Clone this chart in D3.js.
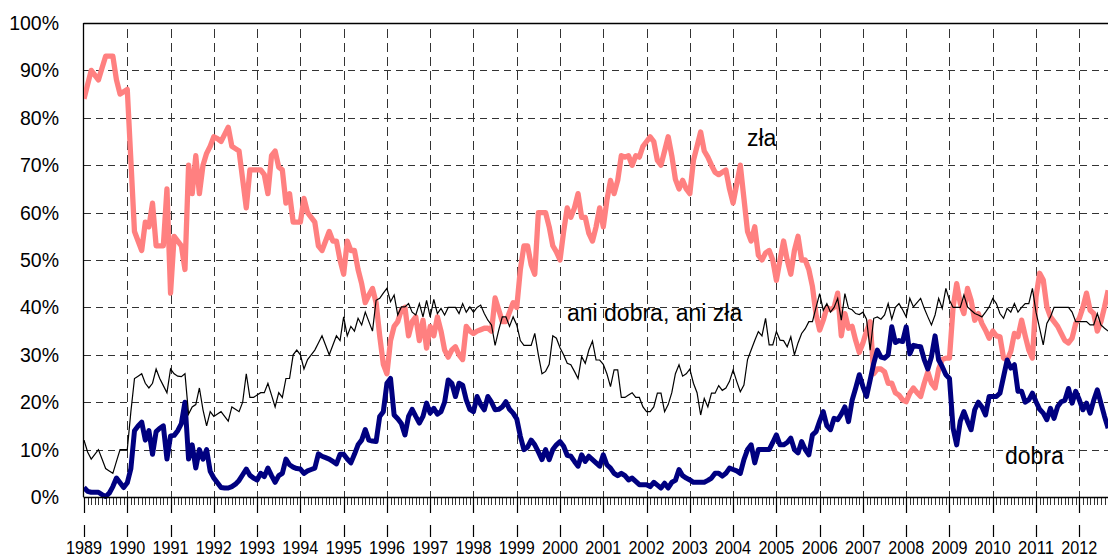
<!DOCTYPE html>
<html>
<head>
<meta charset="utf-8">
<script src="https://cdn.jsdelivr.net/npm/d3@7"></script>
<style>
  body { margin: 0; background: #fff; }
  svg { display: block; font-family: Arial, "Liberation Sans", sans-serif; }
</style>
</head>
<body>
<div id="chart"></div>
<script>
// monthly values, Jan 1989 .. Sep 2012 (one row per year)
var zla = [
  84, 87, 90, 89, 88, 90.5, 93, 93, 93, 88, 85, 85.5,
  86, 71, 56, 54, 52, 58, 57, 62, 53, 53, 53, 65,
  43, 55, 54, 53, 48, 70, 64, 72, 64, 70, 72.5, 74,
  76, 75.6, 75, 76.5, 78, 74, 73.5, 73, 67, 61, 69, 69,
  69, 69, 68, 64, 72, 73, 69.6, 69, 62, 64, 58, 58,
  58, 63, 60, 59, 58, 53, 52, 54, 56, 54, 54, 50,
  47, 54, 52, 52, 48, 45, 41, 42.6, 44, 41, 34, 28,
  26, 33, 36, 37, 39.5, 40, 34, 37, 38, 33, 37.3, 31.4,
  36, 34, 38, 35, 31, 29.5, 31, 31.7, 30, 29, 36, 35,
  34.5, 35, 35.3, 35.6, 35.6, 35, 42, 39.5, 37, 37, 39, 41,
  40, 48, 53, 53, 49, 47, 60, 60, 60, 57, 53, 51.7,
  50, 56, 61, 59, 61, 64, 59, 59, 55.6, 54, 57, 61,
  57, 62.6, 66.8, 64, 66.8, 72, 71.7, 72, 70, 72, 71.7, 74,
  75, 76, 75, 71, 70, 73, 76, 72, 67, 65, 66.8, 65,
  64, 71, 74, 77, 73, 71.7, 70, 68.5, 68, 68.5, 69, 65,
  62, 66, 70, 63, 56, 54, 57, 51, 50, 51.5, 52, 50,
  45.7, 50, 54, 50, 47, 52, 55, 50, 50, 48, 44.4, 38.5,
  35.2, 37.3, 40, 39.5, 40, 43, 34, 38.7, 35.6, 36, 33, 30.5,
  32.5, 35, 37, 26, 27, 27, 26.4, 24, 24, 22, 21.5, 20.5,
  20.1, 21.9, 23, 22, 21.2, 24, 26.4, 24, 23, 27, 29, 29.3,
  29.3, 40, 45, 40.8, 38.7, 44, 41.5, 37.3, 38.7, 36.6, 35.2, 33.5,
  35, 34, 33.8, 29.3, 28.9, 30.7, 34.5, 33.8, 37.3, 34, 31, 29.3,
  42.2, 47.2, 45.8, 40.1, 38, 37, 36, 34.5, 33, 32.5, 33.5, 36.6,
  37.7, 40, 43, 39.4, 38.7, 35, 37, 40.1, 43.6
];
var aniDobraAniZla = [
  12, 9.5, 8, 9, 10, 8, 6, 5.5, 5, 7.5, 10, 10,
  10, 18, 25, 25.5, 26, 24, 23, 24, 27, 25, 23.5, 22,
  27, 26, 25.5, 25.4, 26, 17.5, 19, 19.5, 23, 18.4, 15, 18,
  17, 17.5, 18, 17, 16, 19, 18.5, 18, 20, 26, 21, 21,
  21.5, 22, 22, 24, 21.5, 19, 22, 21, 25, 25, 30, 31,
  30, 27, 29, 30, 31, 32.5, 34, 32, 30, 32, 34, 33,
  38, 34, 36, 35, 37.7, 36.3, 39, 37, 35, 41.5, 41.9, 43,
  44, 41.2, 42.6, 38.4, 40.1, 40.1, 40.8, 39, 38.4, 40.8, 38, 41.5,
  38, 41.7, 38.7, 39.8, 38.4, 40, 40, 40, 38.7, 40.8, 39, 40.1,
  39, 40, 40.5, 38.7, 37.3, 36.3, 32, 35.2, 38, 38, 36, 38,
  36.3, 33, 32, 32, 32, 34.5, 30, 26, 26.5, 28, 34, 33.5,
  31.5, 30, 28.2, 27.9, 26.5, 25, 29.6, 28.2, 31, 32.9, 28.9, 28.9,
  28, 26, 23.3, 26.8, 26.8, 21, 21, 21.5, 22, 21, 21, 19,
  18, 18, 19, 21.9, 21.9, 18, 19.5, 22, 26, 27.9, 25.5, 26,
  27, 24, 22, 17.3, 20.8, 19, 21.9, 21.9, 23.5, 22.5, 23, 24.4,
  26.8, 24.4, 22.2, 23.6, 29, 31, 33, 34.9, 34, 37.7, 32.1, 32.1,
  34.9, 33.1, 33, 31.7, 33.8, 30, 32.5, 34.5, 35.5, 37, 37, 40,
  42.9, 39.4, 40.8, 39, 40, 41.9, 37.3, 42.9, 39.8, 39.5, 38.7, 38.5,
  39, 37.5, 31, 37.7, 38, 37.5, 38.4, 40.8, 37.5, 40, 40.8, 39.5,
  38, 41.9, 40.1, 41, 41.9, 39.8, 38, 36.3, 38.4, 41.9, 39.8, 44,
  41.5, 40, 40, 40, 42.6, 40.1, 39.4, 38.7, 38.4, 38, 39, 40.1,
  41.9, 40.8, 38.7, 37.7, 39.8, 39, 40.8, 39, 40, 40.8, 40.8, 44,
  39, 35.6, 32.1, 36.6, 38, 40, 40, 40, 40, 40, 39, 37,
  37, 37, 37, 36.3, 36.3, 38.7, 36.3, 35.6, 35
];
var dobra = [
  2, 1.2, 1, 1, 1, 0.5, 0.1, 0.8, 2.2, 4, 3, 2,
  3, 6, 14, 15, 15.8, 12, 14, 9, 13.8, 14.5, 15, 8,
  12.9, 13, 14, 15.5, 20, 8, 11, 6.1, 10, 8, 10, 5.4,
  4, 3, 2, 1.9, 1.9, 2.2, 2.7, 3.5, 4.7, 5.9, 4.6, 4,
  3.6, 5, 4.3, 6.1, 4.5, 3.1, 4.5, 5, 8, 6.8, 6.3, 6,
  5.9, 5, 5.5, 5.8, 6.1, 9.1, 8.6, 8.3, 8, 7.5, 7, 9,
  9, 8, 7.2, 9, 11, 12, 14.2, 12, 11.8, 11.7, 17, 18,
  24, 25, 17.3, 16.5, 15.5, 13.1, 17, 18.5, 17, 15.6, 17, 19.8,
  17.7, 18.7, 17.5, 18, 20, 24.7, 24, 21.2, 24, 23.6, 20.5, 18.5,
  18, 21.2, 19.5, 18.4, 21.2, 20, 18.4, 18.5, 19, 20.1, 18.5, 17.7,
  16.5, 12.8, 10, 10.5, 12, 11, 9.5, 7.9, 10, 7.9, 10, 11,
  11.7, 10.7, 8.8, 8.6, 7.5, 6.5, 8.9, 7.5, 8.6, 7.9, 7.2, 6.5,
  8.9, 6.8, 6.1, 5, 4.5, 5, 4.5, 3.6, 4, 3.3, 2.6, 2.6,
  2.6, 2.2, 3.1, 2.5, 1.9, 2.9, 1.9, 3.1, 3.5, 5.8, 4.5, 4,
  3.6, 3.1, 3.1, 3.1, 3.1, 3.5, 4, 5, 5, 4.4, 5, 6.1,
  5.8, 5.5, 5, 7.9, 10, 11, 7.2, 10, 10, 10, 10, 11.5,
  13.1, 11, 11, 11.5, 12.4, 10, 9.3, 11.7, 10, 8.9, 13.1, 13.8,
  16, 18, 15, 14.2, 16.6, 16.3, 17.5, 19, 15.9, 20.4, 23, 25.8,
  23.3, 21.2, 24.7, 28.2, 31, 29.5, 29.3, 30, 35.9, 32.6, 33, 32.8,
  35.9, 30.2, 32, 31.8, 31.7, 29, 27, 29.6, 34, 28.9, 27.5, 25.8,
  25, 14.5, 11, 16, 18, 16, 14.2, 18.4, 20, 19, 17.3, 21.2,
  21.2, 21.2, 21.9, 25.4, 28.9, 27.2, 27.9, 22.3, 22.3, 20, 20.5, 21.9,
  20.1, 18.5, 17.7, 16.3, 18.7, 16.6, 19.1, 20.1, 20.4, 22.9, 19.8, 22.3,
  20.5, 18.4, 19.8, 17.7, 20.4, 22.6, 19.8, 17, 14.5
];
var years = d3.range(1989, 2013);
var yTicks = d3.range(0, 101, 10);

var width = 1108, height = 559;
var svg = d3.select("#chart").append("svg")
    .attr("width", width)
    .attr("height", height);

// month index -> x, percent -> y
var x = d3.scaleLinear().domain([0, 276]).range([84, 1079.3]);
var y = d3.scaleLinear().domain([0, 100]).range([497, 23]);

svg.append("clipPath").attr("id", "plot")
  .append("rect")
    .attr("x", 84).attr("y", 0)
    .attr("width", width - 84).attr("height", 500);

// horizontal grid
svg.append("g").selectAll("line")
    .data(yTicks.filter(function(d) { return d > 0 && d < 100; }))
  .enter().append("line")
    .attr("x1", 84).attr("x2", width)
    .attr("y1", function(d) { return Math.round(y(d)) + 0.5; })
    .attr("y2", function(d) { return Math.round(y(d)) + 0.5; })
    .style("stroke", "#333")
    .style("stroke-dasharray", "7,5");

// vertical grid, one per year
svg.append("g").selectAll("line")
    .data(years.slice(1))
  .enter().append("line")
    .attr("x1", function(d) { return Math.round(x((d - 1989) * 12)) + 0.5; })
    .attr("x2", function(d) { return Math.round(x((d - 1989) * 12)) + 0.5; })
    .attr("y1", 29).attr("y2", 497)
    .style("stroke", "#333")
    .style("stroke-dasharray", "9,5");

// frame: top and left
svg.append("line")
    .attr("x1", 83.5).attr("x2", width).attr("y1", 23.5).attr("y2", 23.5)
    .style("stroke", "#000").style("stroke-width", 1.3);
svg.append("line")
    .attr("x1", 83.5).attr("x2", 83.5).attr("y1", 23).attr("y2", 497)
    .style("stroke", "#000").style("stroke-width", 1.3);

// series
var line = d3.line()
    .x(function(d, i) { return x(i); })
    .y(function(d) { return y(d); });

var lines = svg.append("g").attr("clip-path", "url(#plot)");
lines.append("path")
    .attr("d", line(zla))
    .style("fill", "none").style("stroke", "#ff8080")
    .style("stroke-width", 5.3).style("stroke-linejoin", "round");
lines.append("path")
    .attr("d", line(dobra))
    .style("fill", "none").style("stroke", "#000080")
    .style("stroke-width", 5).style("stroke-linejoin", "round");
lines.append("path")
    .attr("d", line(aniDobraAniZla))
    .style("fill", "none").style("stroke", "#000")
    .style("stroke-width", 1.2);

// x axis with monthly minor ticks
var xAxis = svg.append("g");
xAxis.append("line")
    .attr("x1", 83.5).attr("x2", width).attr("y1", 497.5).attr("y2", 497.5)
    .style("stroke", "#000").style("stroke-width", 1.3);
xAxis.selectAll(".minor")
    .data(d3.range(0, 285))
  .enter().append("line")
    .attr("class", "minor")
    .attr("x1", function(d) { return Math.round(x(d)) + 0.5; })
    .attr("x2", function(d) { return Math.round(x(d)) + 0.5; })
    .attr("y1", 497).attr("y2", 505)
    .style("stroke", "#000").style("stroke-width", 0.8);
xAxis.selectAll(".major")
    .data(years)
  .enter().append("line")
    .attr("class", "major")
    .attr("x1", function(d) { return Math.round(x((d - 1989) * 12)) + 0.5; })
    .attr("x2", function(d) { return Math.round(x((d - 1989) * 12)) + 0.5; })
    .attr("y1", 497).attr("y2", 537)
    .style("stroke", "#000").style("stroke-width", 1.2)
    .style("stroke-dasharray", "16,12,12");
xAxis.selectAll("text")
    .data(years)
  .enter().append("text")
    .attr("x", function(d) { return x((d - 1989) * 12); })
    .attr("y", 554)
    .attr("text-anchor", "middle")
    .attr("font-size", 18)
    .attr("textLength", 36)
    .attr("lengthAdjust", "spacingAndGlyphs")
    .text(function(d) { return d; });

// y labels
svg.append("g").selectAll("text")
    .data(yTicks)
  .enter().append("text")
    .attr("x", 59)
    .attr("y", function(d) { return y(d) + 7; })
    .attr("text-anchor", "end")
    .attr("font-size", 19.5)
    .text(function(d) { return d + "%"; });

// series labels
var labels = [
  {text: "zła", x: 747, y: 146},
  {text: "ani dobra, ani zła", x: 567, y: 321},
  {text: "dobra", x: 1005, y: 464}
];
svg.append("g").selectAll("text")
    .data(labels)
  .enter().append("text")
    .attr("x", function(d) { return d.x; })
    .attr("y", function(d) { return d.y; })
    .attr("font-size", 23)
    .text(function(d) { return d.text; });
</script>
</body>
</html>
